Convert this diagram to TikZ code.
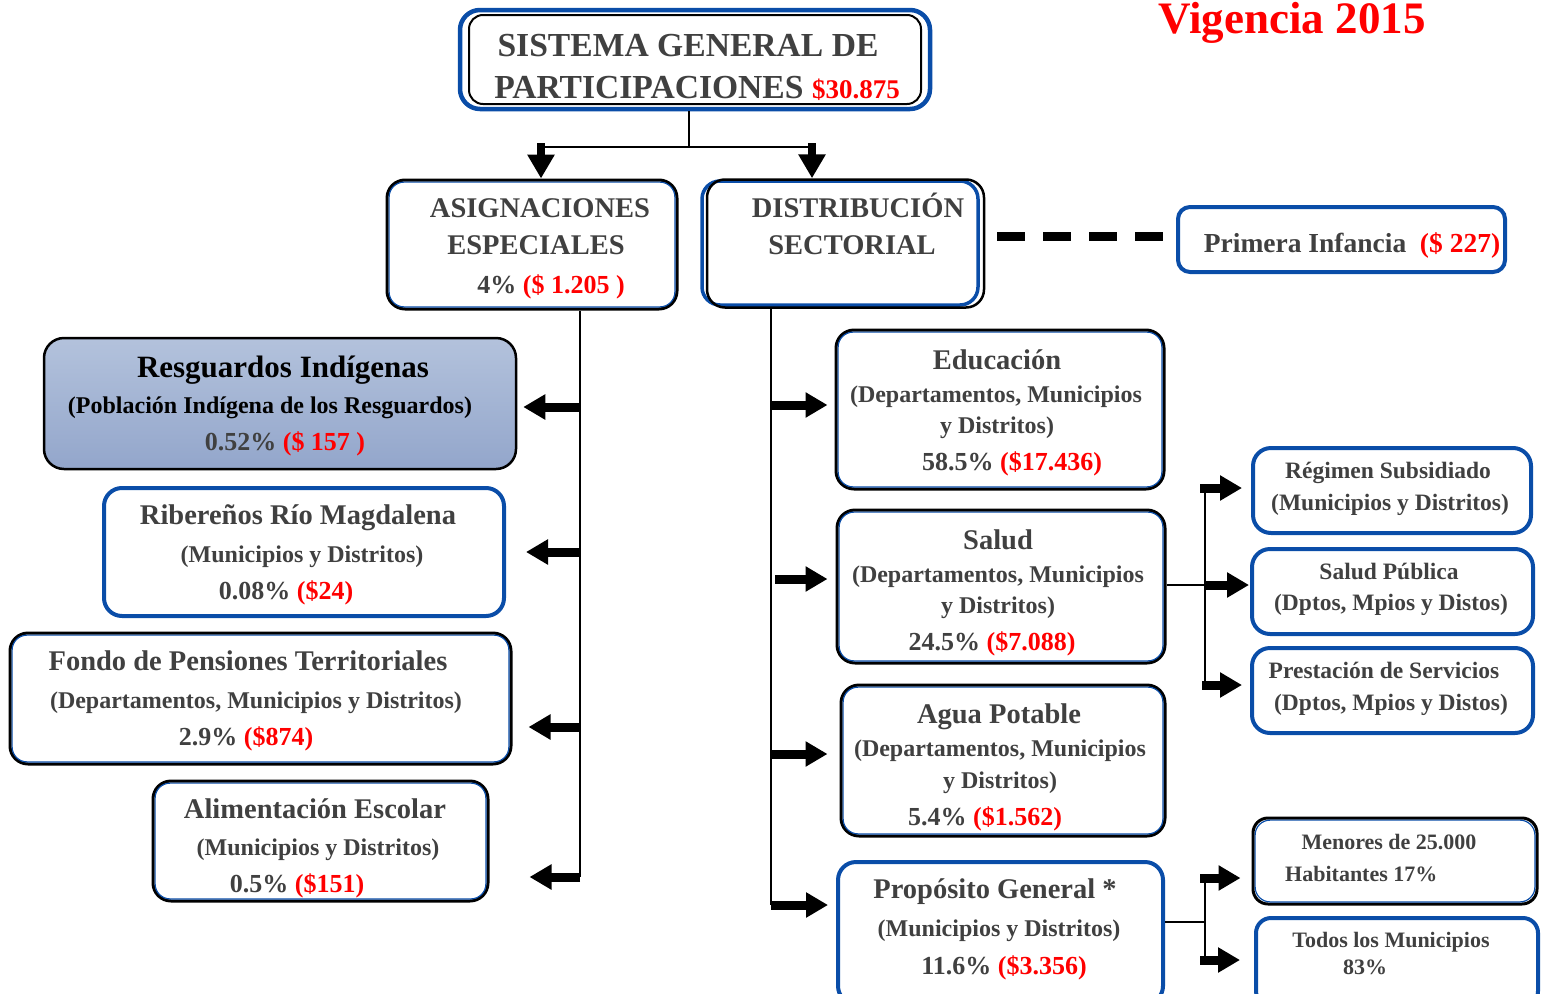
\documentclass[tikz,border=0pt]{standalone}
\usepackage{fontspec}
\setmainfont{Liberation Serif}
\usetikzlibrary{arrows.meta,fit,calc}
\definecolor{tgrey}{HTML}{404040}
\definecolor{bblue}{HTML}{0A4DA8}
\definecolor{rred}{HTML}{FF0000}
\definecolor{resA}{HTML}{B3C2DC}
\definecolor{resB}{HTML}{93A6CB}
\newcommand\rv[1]{\textcolor{rred}{#1}}
\newcommand\inb[1]{\draw[bblue, line width=1.2pt, rounded corners=15pt] ([shift={(3.6pt,-3.6pt)}]#1.north west) rectangle ([shift={(-3.6pt,3.6pt)}]#1.south east);}
\tikzset{
 bluebox/.style={draw=bblue, line width=4pt, rounded corners=18pt, inner sep=0pt},
 darkbox/.style={draw=black, line width=3pt, rounded corners=18pt, inner sep=0pt},
 txt/.style={anchor=base, inner sep=0pt, text=tgrey},
 ttl/.style={txt, font=\fontsize{33.6}{36}\bfseries\selectfont},
 hd/.style={txt, font=\fontsize{28.5}{30}\bfseries\selectfont},
 sub/.style={txt, font=\fontsize{24}{26}\bfseries\selectfont},
 pct/.style={txt, font=\fontsize{26}{28}\bfseries\selectfont},
 sm/.style={txt, font=\fontsize{23.5}{25}\bfseries\selectfont},
 smm/.style={txt, font=\fontsize{22}{24}\bfseries\selectfont},
 trunk/.style={draw=black, line width=2.5pt},
 barrow/.style={draw=black, line width=9pt, -{Triangle[length=22pt,width=24pt]}},
 darrow/.style={draw=black, line width=8pt, -{Triangle[length=24pt,width=26pt]}},
}
\begin{document}
\begin{tikzpicture}[x=1pt,y=-1pt]
\useasboundingbox (0,0) rectangle (1546,993);

% ---------- boxes ----------
\node[bluebox, line width=4.5pt, rounded corners=20pt, fit={(460,10) (930,109)}] (top) {};
\node[draw=black, line width=2pt, rounded corners=14pt, inner sep=0pt, fit={(469,15) (921,104)}] (topin) {};
\node[darkbox, fit={(387,180) (677,309)}] (asig) {};
\inb{asig}
\node[bluebox, line width=3.5pt, fit={(702,181) (978,305)}] (distb) {};
\node[draw=black, line width=2.5pt, rounded corners=18pt, inner sep=0pt, fit={(707,179.5) (984,307.5)}] (dist) {};
\node[bluebox, rounded corners=12pt, fit={(1178,207) (1505,272)}] (pinf) {};

\node[draw=black, line width=2.5pt, rounded corners=20pt, inner sep=0pt, top color=resA, bottom color=resB, fit={(44,338) (516,469)}] (res) {};
\node[bluebox, fit={(104,488) (504,616)}] (rib) {};
\node[darkbox, fit={(10,633) (511,764)}] (fondo) {};
\inb{fondo}
\node[darkbox, fit={(153,781) (488,901)}] (alim) {};
\inb{alim}

\node[darkbox, fit={(836,330) (1164,489)}] (edu) {};
\inb{edu}
\node[darkbox, fit={(837,510) (1165,663)}] (salud) {};
\inb{salud}
\node[darkbox, fit={(841,685) (1165,836)}] (agua) {};
\inb{agua}
\node[bluebox, fit={(838,862) (1163,1004)}] (prop) {};

\node[bluebox, fit={(1253,448) (1531,533)}] (reg) {};
\node[bluebox, fit={(1252,549) (1533,634)}] (spub) {};
\node[bluebox, fit={(1252,648) (1533,733)}] (pres) {};
\node[darkbox, rounded corners=15pt, fit={(1253,818) (1537,904)}] (men) {};
\inb{men}
\node[bluebox, rounded corners=15pt, fit={(1256,918) (1538,1006)}] (todos) {};

% ---------- texts ----------
\node[anchor=base, inner sep=0pt, text=rred, font=\fontsize{45}{45}\bfseries\selectfont] (vig) at (1292,33) {Vigencia 2015};

\node[ttl] (t1) at (688,56) {SISTEMA GENERAL DE};
\node[ttl] (t2) at (697,98) {PARTICIPACIONES {\fontsize{27}{28}\selectfont\rv{\$30.875}}};

\node[hd] (t3) at (540,217.5) {ASIGNACIONES};
\node[hd] (t4) at (536,254.5) {ESPECIALES};
\node[pct] (t5) at (551,293) {4\% \rv{(\$ 1.205 )}};
\node[hd] (t6) at (858,217.5) {DISTRIBUCIÓN};
\node[hd] (t7) at (852,254.5) {SECTORIAL};
\node[txt, font=\fontsize{27.5}{29}\bfseries\selectfont] (t8) at (1352,252) {Primera Infancia\ \ \rv{(\$ 227)}};

\node[txt, text=black, font=\fontsize{31}{33}\bfseries\selectfont] (t9) at (283,377) {Resguardos Indígenas};
\node[sub, text=black] (t10) at (270,413) {(Población Indígena de los Resguardos)};
\node[pct] (t11) at (285,450) {0.52\% \rv{(\$ 157 )}};

\node[hd] (t12) at (298,524.5) {Ribereños Río Magdalena};
\node[sub] (t13) at (302,562) {(Municipios y Distritos)};
\node[pct] (t14) at (286,599) {0.08\% \rv{(\$24)}};

\node[hd] (t15) at (248,670.5) {Fondo de Pensiones Territoriales};
\node[sub] (t16) at (256,708) {(Departamentos, Municipios y Distritos)};
\node[pct] (t17) at (246,745) {2.9\% \rv{(\$874)}};

\node[hd] (t18) at (315,818.5) {Alimentación Escolar};
\node[sub] (t19) at (318,855) {(Municipios y Distritos)};
\node[pct] (t20) at (297,892) {0.5\% \rv{(\$151)}};

\node[hd] (t21) at (997,369.5) {Educación};
\node[sub] (t22) at (996,402) {(Departamentos, Municipios};
\node[sub] (t23) at (997,433) {y Distritos)};
\node[pct] (t24) at (1012,470) {58.5\% \rv{(\$17.436)}};

\node[hd] (t25) at (998,549.5) {Salud};
\node[sub] (t26) at (998,582) {(Departamentos, Municipios};
\node[sub] (t27) at (998,613) {y Distritos)};
\node[pct] (t28) at (992,650) {24.5\% \rv{(\$7.088)}};

\node[hd] (t29) at (999,723.5) {Agua Potable};
\node[sub] (t30) at (1000,756) {(Departamentos, Municipios};
\node[sub] (t31) at (1000,788) {y Distritos)};
\node[pct] (t32) at (985,825) {5.4\% \rv{(\$1.562)}};

\node[hd] (t33) at (995,898.5) {Propósito General *};
\node[sub] (t34) at (999,936) {(Municipios y Distritos)};
\node[pct] (t35) at (1004,974) {11.6\% \rv{(\$3.356)}};

\node[sm] (t36) at (1388,478) {Régimen Subsidiado};
\node[sm] (t37) at (1390,510) {(Municipios y Distritos)};
\node[sm] (t38) at (1389,579) {Salud Pública};
\node[sm] (t39) at (1391,610) {(Dptos, Mpios y Distos)};
\node[sm] (t40) at (1384,678) {Prestación de Servicios};
\node[sm] (t41) at (1391,710) {(Dptos, Mpios y Distos)};
\node[smm] (t42) at (1389,849) {Menores de 25.000};
\node[smm, anchor=base west] (t43) at (1285,881) {Habitantes 17\%};
\node[smm] (t44) at (1391,947) {Todos los Municipios};
\node[smm] (t45) at (1365,974) {83\%};

% ---------- connectors ----------
\coordinate (j0) at (689,147);
\coordinate (jl) at (541,147);
\coordinate (jr) at (812,147);
\draw[trunk] (j0 |- top.south) -- (j0);
\draw[trunk] (jl) -- (jr);
\draw[darrow] ([yshift=4pt]jl) -- (jl |- asig.north);
\draw[darrow] ([yshift=4pt]jr) -- (jr |- dist.north);

\coordinate (ds) at (997,236);
\draw[line width=9pt, dash pattern=on 28pt off 18pt, shorten >=8pt] (ds) -- (ds -| pinf.west);

% left trunk
\coordinate (L1) at (580,407);
\coordinate (L2) at (580,552);
\coordinate (L3) at (580,727);
\coordinate (L4) at (580,877);
\draw[trunk] (L4 |- asig.south) -- (L4);
\draw[barrow, shorten >=6pt] (L1) -- (L1 -| res.east);
\draw[barrow, shorten >=20pt] (L2) -- (L2 -| rib.east);
\draw[barrow, shorten >=16pt] (L3) -- (L3 -| fondo.east);
\draw[barrow, shorten >=40pt] (L4) -- (L4 -| alim.east);

% middle trunk
\coordinate (M1) at (771,405);
\coordinate (M2) at (775,579);
\coordinate (M3) at (771,754);
\coordinate (M4) at (771,905);
\draw[trunk] (M4 |- dist.south) -- (M4);
\draw[barrow, shorten >=7pt] (M1) -- (M1 -| edu.west);
\draw[barrow, shorten >=8pt] (M2) -- (M2 -| salud.west);
\draw[barrow, shorten >=12pt] (M3) -- (M3 -| agua.west);
\draw[barrow, shorten >=8pt] (M4) -- (M4 -| prop.west);

% salud branch
\coordinate (R0) at (1205,585);
\coordinate (R1) at (1200,488);
\coordinate (R2) at (1205,585);
\coordinate (R3) at (1202,685);
\draw[trunk] (salud.east |- R0) -- (R0);
\draw[trunk] (1205,488) -- (1205,685);
\draw[barrow, shorten >=9pt] (R1) -- (R1 -| reg.west);
\draw[barrow, shorten >=1pt] (R2) -- (R2 -| spub.west);
\draw[barrow, shorten >=8pt] (R3) -- (R3 -| pres.west);

% proposito branch
\coordinate (P0) at (1205,922);
\coordinate (P1) at (1200,878);
\coordinate (P2) at (1200,960);
\draw[trunk] (prop.east |- P0) -- (P0);
\draw[trunk] (1205,878) -- (1205,960);
\draw[barrow, shorten >=11pt] (P1) -- (P1 -| men.west);
\draw[barrow, shorten >=14pt] (P2) -- (P2 -| todos.west);
\end{tikzpicture}
\end{document}
